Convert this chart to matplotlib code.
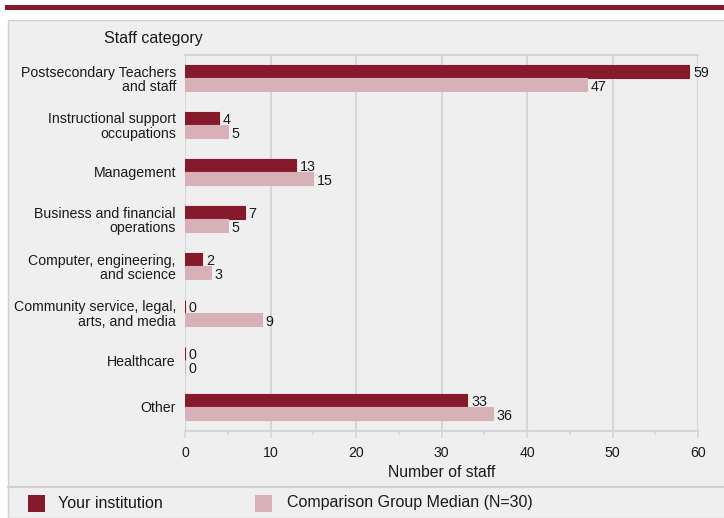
import matplotlib.pyplot as plt
from matplotlib.patches import Rectangle
from matplotlib.lines import Line2D
import numpy as np

plt.rcParams['font.family'] = ['Liberation Sans', 'DejaVu Sans']

categories = ["Postsecondary Teachers\nand staff", "Instructional support\noccupations",
              "Management", "Business and financial\noperations",
              "Computer, engineering,\nand science", "Community service, legal,\narts, and media",
              "Healthcare", "Other"]
your_inst = [59, 4, 13, 7, 2, 0, 0, 33]
comparison = [47, 5, 15, 5, 3, 9, 0, 36]
series_names = ["Your institution", "Comparison Group Median (N=30)"]

dark = "#861a2d"
light = "#d8b1b8"
bg = "#efefef"
txt = "#1a1a1a"
grid_c = "#d6d6d6"

W, H = 724, 518
fig = plt.figure(figsize=(W / 100, H / 100), dpi=100)

def fx(px):
    return px / W

def fy(py):
    return 1 - py / H

# top band and panel (behind the axes)
fig.patches.append(Rectangle((fx(5), fy(10)), 1, 5 / H, transform=fig.transFigure,
                             facecolor=dark, edgecolor='none', zorder=-2))
fig.patches.append(Rectangle((fx(8), fy(518)), 1, (518 - 20) / H, transform=fig.transFigure,
                             facecolor=bg, edgecolor='#d0d0d0', linewidth=1, zorder=-2))
fig.lines.append(Line2D([fx(8), 1], [fy(487), fy(487)], transform=fig.transFigure,
                        color='#d0d0d0', linewidth=1.5, zorder=-1))

ax = fig.add_axes([fx(185), fy(430.5), fx(698) - fx(185), fy(54.5) - fy(430.5)])
ax.set_facecolor(bg)

y = np.arange(len(categories))
h = 0.27
ax.barh(y - h / 2, your_inst, height=h, color=dark, edgecolor=dark, linewidth=0.8, zorder=3)
ax.barh(y + h / 2, comparison, height=h, color=light, edgecolor=light, linewidth=0.8, zorder=3)
for yi, v in zip(y, your_inst):
    ax.text(v + 0.45, yi - h / 2 + 0.03, str(v), va='center', ha='left', fontsize=10.3, color=txt)
for yi, v in zip(y, comparison):
    ax.text(v + 0.45, yi + h / 2 + 0.06, str(v), va='center', ha='left', fontsize=10.3, color=txt)

ax.set_xlim(0, 60)
ax.set_ylim(7.5, -0.5)
ax.set_yticks(y)
ax.set_yticklabels(categories, fontsize=10.2, ha='right', multialignment='right',
                   linespacing=1.05, color=txt)
ax.tick_params(axis='y', length=0, pad=6.5)
ax.set_xticks(range(0, 61, 10))
ax.set_xticks(range(0, 61, 5), minor=True)
ax.tick_params(axis='x', which='major', length=5, width=1.2, color=grid_c, labelsize=10.2,
               labelcolor=txt, pad=6)
ax.tick_params(axis='x', which='minor', length=3, width=1.2, color=grid_c)
ax.grid(axis='x', color=grid_c, linewidth=1.5, zorder=0)
ax.spines['left'].set_visible(False)
ax.spines['right'].set_visible(False)
for s in ['top', 'bottom']:
    ax.spines[s].set_color(grid_c)
    ax.spines[s].set_linewidth(1.5)
ax.set_xlabel("Number of staff", fontsize=11.3, labelpad=4, color=txt)

fig.text(fx(104), fy(39), "Staff category", fontsize=11.5, va='center', ha='left', color=txt)

# legend
fig.patches.append(Rectangle((fx(28), fy(512)), 17 / W, 17 / H, transform=fig.transFigure,
                             facecolor=dark, edgecolor='none'))
fig.text(fx(58), fy(503), series_names[0], fontsize=11.5, va='center', color=txt)
fig.patches.append(Rectangle((fx(255), fy(512)), 17 / W, 17 / H, transform=fig.transFigure,
                             facecolor=light, edgecolor='none'))
fig.text(fx(287), fy(503), series_names[1], fontsize=11.5, va='center', color=txt)

fig.savefig("out.png", dpi=100, facecolor='white')
